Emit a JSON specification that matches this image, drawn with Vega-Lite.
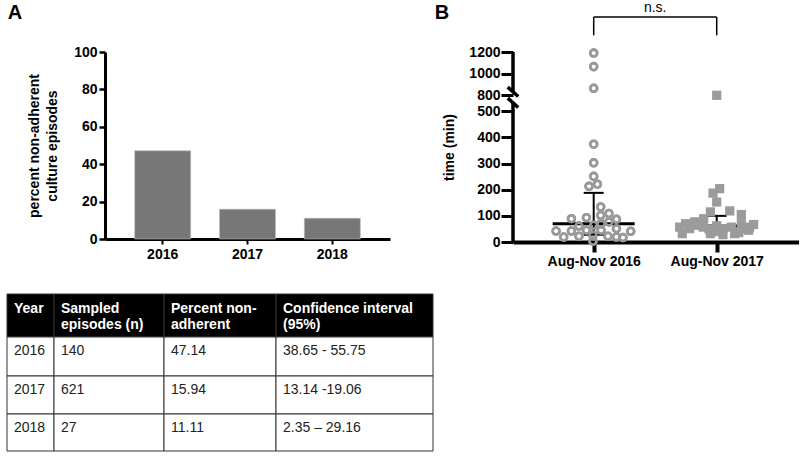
{
  "$schema": "https://vega.github.io/schema/vega-lite/v6.json",
  "background": "white",
  "padding": {"left": 6, "top": 0, "right": 0, "bottom": 0},
  "config": {
    "font": "Liberation Sans",
    "view": {"stroke": null},
    "axis": {"grid": false, "labelFont": "Liberation Sans", "labelFontWeight": "bold", "labelFontSize": 14, "labelColor": "#000", "titleFont": "Liberation Sans", "titleFontWeight": "bold", "titleFontSize": 14, "titleColor": "#000", "domainColor": "#000", "tickColor": "#000", "labelOverlap": false},
    "title": {"font": "Liberation Sans", "fontSize": 20, "fontWeight": "bold", "color": "#000", "anchor": "start", "frame": "bounds"}
  },
  "datasets": {
    "bars": [{"year": "2016", "pct": 47.14}, {"year": "2017", "pct": 15.94}, {"year": "2018", "pct": 11.11}],
    "cols": [{"col": "c1", "left": 0, "right": 47}, {"col": "c2", "left": 47, "right": 157}, {"col": "c3", "left": 157, "right": 269}, {"col": "c4", "left": 269, "right": 426}],
    "rows": [{"row": "header", "top": 0, "bottom": 43}, {"row": "2016", "top": 43, "bottom": 82}, {"row": "2017", "top": 82, "bottom": 120}, {"row": "2018", "top": 120, "bottom": 157}],
    "cells": [
      {"row": "header", "col": "c1", "text": "Year"},
      {"row": "header", "col": "c2", "text": "Sampled\nepisodes (n)"},
      {"row": "header", "col": "c3", "text": "Percent non-\nadherent"},
      {"row": "header", "col": "c4", "text": "Confidence interval\n(95%)"},
      {"row": "2016", "col": "c1", "text": "2016"},
      {"row": "2016", "col": "c2", "text": "140"},
      {"row": "2016", "col": "c3", "text": "47.14"},
      {"row": "2016", "col": "c4", "text": "38.65 - 55.75"},
      {"row": "2017", "col": "c1", "text": "2017"},
      {"row": "2017", "col": "c2", "text": "621"},
      {"row": "2017", "col": "c3", "text": "15.94"},
      {"row": "2017", "col": "c4", "text": "13.14 -19.06"},
      {"row": "2018", "col": "c1", "text": "2018"},
      {"row": "2018", "col": "c2", "text": "27"},
      {"row": "2018", "col": "c3", "text": "11.11"},
      {"row": "2018", "col": "c4", "text": "2.35 – 29.16"}
    ],
    "times": [
      {"group": "2016", "xpos": 1.0, "minutes": 1190},
      {"group": "2016", "xpos": 1.0, "minutes": 1065},
      {"group": "2016", "xpos": 1.0, "minutes": 865},
      {"group": "2016", "xpos": 1.0, "minutes": 374},
      {"group": "2016", "xpos": 1.0, "minutes": 303},
      {"group": "2016", "xpos": 1.0, "minutes": 251},
      {"group": "2016", "xpos": 0.962, "minutes": 213},
      {"group": "2016", "xpos": 1.03, "minutes": 221},
      {"group": "2016", "xpos": 1.057, "minutes": 134},
      {"group": "2016", "xpos": 0.819, "minutes": 89},
      {"group": "2016", "xpos": 0.941, "minutes": 93},
      {"group": "2016", "xpos": 1.057, "minutes": 102},
      {"group": "2016", "xpos": 1.124, "minutes": 109},
      {"group": "2016", "xpos": 1.185, "minutes": 87},
      {"group": "2016", "xpos": 0.88, "minutes": 61},
      {"group": "2016", "xpos": 1.0, "minutes": 64},
      {"group": "2016", "xpos": 1.06, "minutes": 70},
      {"group": "2016", "xpos": 1.124, "minutes": 77},
      {"group": "2016", "xpos": 0.694, "minutes": 42},
      {"group": "2016", "xpos": 0.819, "minutes": 42},
      {"group": "2016", "xpos": 0.941, "minutes": 45},
      {"group": "2016", "xpos": 1.06, "minutes": 45},
      {"group": "2016", "xpos": 1.185, "minutes": 51},
      {"group": "2016", "xpos": 1.301, "minutes": 41},
      {"group": "2016", "xpos": 0.756, "minutes": 19},
      {"group": "2016", "xpos": 0.88, "minutes": 22},
      {"group": "2016", "xpos": 0.994, "minutes": 26},
      {"group": "2016", "xpos": 1.116, "minutes": 22},
      {"group": "2016", "xpos": 1.185, "minutes": 19},
      {"group": "2016", "xpos": 1.238, "minutes": 17},
      {"group": "2016", "xpos": 0.994, "minutes": 3},
      {"group": "2017", "xpos": 2.0, "minutes": 800},
      {"group": "2017", "xpos": 2.024, "minutes": 204},
      {"group": "2017", "xpos": 1.97, "minutes": 187},
      {"group": "2017", "xpos": 2.0, "minutes": 153},
      {"group": "2017", "xpos": 1.949, "minutes": 115},
      {"group": "2017", "xpos": 2.106, "minutes": 119},
      {"group": "2017", "xpos": 2.2, "minutes": 105},
      {"group": "2017", "xpos": 1.894, "minutes": 89},
      {"group": "2017", "xpos": 1.821, "minutes": 77},
      {"group": "2017", "xpos": 1.748, "minutes": 70},
      {"group": "2017", "xpos": 1.699, "minutes": 57},
      {"group": "2017", "xpos": 1.78, "minutes": 51},
      {"group": "2017", "xpos": 1.72, "minutes": 32},
      {"group": "2017", "xpos": 1.889, "minutes": 57},
      {"group": "2017", "xpos": 1.938, "minutes": 49},
      {"group": "2017", "xpos": 1.949, "minutes": 32},
      {"group": "2017", "xpos": 2.051, "minutes": 51},
      {"group": "2017", "xpos": 2.051, "minutes": 28},
      {"group": "2017", "xpos": 2.119, "minutes": 57},
      {"group": "2017", "xpos": 2.146, "minutes": 32},
      {"group": "2017", "xpos": 2.2, "minutes": 70},
      {"group": "2017", "xpos": 2.228, "minutes": 51},
      {"group": "2017", "xpos": 2.268, "minutes": 57},
      {"group": "2017", "xpos": 2.3, "minutes": 67},
      {"group": "2017", "xpos": 2.26, "minutes": 45},
      {"group": "2017", "xpos": 2.18, "minutes": 36},
      {"group": "2017", "xpos": 2.0, "minutes": 62},
      {"group": "2017", "xpos": 2.0, "minutes": 40},
      {"group": "2017", "xpos": 1.82, "minutes": 64}
    ],
    "summary": [{"xpos": 1, "lo": 28, "median": 70, "hi": 188}, {"xpos": 2, "lo": 60, "median": 61, "hi": 100}],
    "axisline": [{"from": 0, "to": 659}, {"from": 832, "to": 1200}],
    "axisbreak": [{"at": 659}, {"at": 832}],
    "comparison": [{"a": 1, "b": 2, "label": "n.s."}]
  },
  "hconcat": [
    {
      "spacing": 32,
      "vconcat": [
        {
          "title": {"text": "A", "dx": -20, "offset": 22},
          "width": 285,
          "height": 187,
          "data": {"name": "bars"},
          "mark": {"type": "bar", "color": "#777777", "stroke": "#bbbbbb", "strokeWidth": 0.6},
          "encoding": {
            "x": {"field": "year", "type": "nominal", "scale": {"paddingInner": 0.34, "paddingOuter": 0.35}, "axis": {"title": null, "labelAngle": 0, "domainWidth": 3, "tickWidth": 2, "tickSize": 5, "labelPadding": 3}},
            "y": {"field": "pct", "type": "quantitative", "scale": {"domain": [0, 100]}, "axis": {"values": [0, 20, 40, 60, 80, 100], "tickCount": 20, "title": ["percent non-adherent", "culture episodes"], "titleLineHeight": 18, "titlePadding": 14, "domainWidth": 3, "tickWidth": 2.5, "tickSize": 6, "labelPadding": 2}}
          }
        },
        {
          "width": 328,
          "height": 157,
          "data": {"name": "cells"},
          "transform": [
            {"lookup": "col", "from": {"data": {"name": "cols"}, "key": "col", "fields": ["left", "right"]}},
            {"lookup": "row", "from": {"data": {"name": "rows"}, "key": "row", "fields": ["top", "bottom"]}}
          ],
          "layer": [
            {
              "mark": {"type": "rect", "stroke": "#333333", "strokeWidth": 1},
              "encoding": {
                "x": {"field": "left", "type": "quantitative", "scale": {"domain": [98, 426], "nice": false, "zero": false}, "axis": null},
                "x2": {"field": "right"},
                "y": {"field": "top", "type": "quantitative", "scale": {"domain": [0, 157], "reverse": true, "nice": false, "zero": false}, "axis": null},
                "y2": {"field": "bottom"},
                "fill": {"condition": {"test": "datum.row === 'header'", "value": "#000000"}, "value": "#ffffff"}
              }
            },
            {
              "transform": [{"filter": "datum.row === 'header'"}],
              "mark": {"type": "text", "align": "left", "baseline": "top", "dx": 7, "dy": 8, "color": "#ffffff", "font": "Liberation Sans", "fontWeight": "bold", "fontSize": 14, "lineBreak": "\n", "lineHeight": 16},
              "encoding": {
                "x": {"field": "left", "type": "quantitative", "axis": null},
                "y": {"field": "top", "type": "quantitative", "axis": null},
                "text": {"field": "text"}
              }
            },
            {
              "transform": [{"filter": "datum.row !== 'header'"}],
              "mark": {"type": "text", "align": "left", "baseline": "top", "dx": 7, "dy": 7, "color": "#222222", "font": "Liberation Sans", "fontSize": 14},
              "encoding": {
                "x": {"field": "left", "type": "quantitative", "axis": null},
                "y": {"field": "top", "type": "quantitative", "axis": null},
                "text": {"field": "text"}
              }
            }
          ]
        }
      ]
    },
    {
      "title": {"text": "B", "dx": -8, "offset": -22},
      "width": 286,
      "height": 190,
      "layer": [
        {
          "data": {"name": "times"},
          "transform": [{"filter": "datum.group === '2016'"}],
          "mark": {"type": "point", "shape": "circle", "filled": false, "stroke": "#999999", "strokeWidth": 2.6, "size": 48, "opacity": 1},
          "encoding": {
            "x": {"field": "xpos", "type": "quantitative", "scale": {"domain": [0.344, 2.669], "nice": false, "zero": false}, "axis": {"values": [1, 2], "tickCount": 20, "labelExpr": "datum.value == 1 ? 'Aug-Nov 2016' : 'Aug-Nov 2017'", "title": null, "domainWidth": 4, "tickWidth": 4, "tickSize": 10, "labelPadding": 2}},
            "y": {"field": "minutes", "type": "quantitative", "scale": {"domain": [0, 500, 800, 1200], "range": [190, 59.3, 43.3, 0], "nice": false, "zero": false}, "axis": {"values": [0, 100, 200, 300, 400, 500, 800, 1000, 1200], "tickCount": 20, "format": "d", "title": "time (min)", "domain": false, "tickWidth": 3, "tickSize": 12, "labelPadding": 1, "titlePadding": 12}}
          }
        },
        {
          "data": {"name": "axisline"},
          "mark": {"type": "rule", "color": "#000", "strokeWidth": 3.5},
          "encoding": {
            "x": {"datum": 0.344, "type": "quantitative"},
            "y": {"field": "from", "type": "quantitative"},
            "y2": {"field": "to"}
          }
        },
        {
          "data": {"name": "axisbreak"},
          "mark": {"type": "point", "shape": "M -1 -0.9 L 1 0.9", "filled": false, "stroke": "#000", "strokeWidth": 3.5, "size": 110, "opacity": 1},
          "encoding": {
            "x": {"datum": 0.344, "type": "quantitative"},
            "y": {"field": "at", "type": "quantitative"}
          }
        },
        {
          "data": {"name": "summary"},
          "mark": {"type": "rule", "color": "#000", "strokeWidth": 2},
          "encoding": {
            "x": {"field": "xpos", "type": "quantitative"},
            "y": {"field": "lo", "type": "quantitative"},
            "y2": {"field": "hi"}
          }
        },
        {
          "data": {"name": "summary"},
          "mark": {"type": "tick", "orient": "horizontal", "color": "#000", "size": 20, "thickness": 2, "opacity": 1},
          "encoding": {
            "x": {"field": "xpos", "type": "quantitative"},
            "y": {"field": "hi", "type": "quantitative"}
          }
        },
        {
          "data": {"name": "summary"},
          "mark": {"type": "tick", "orient": "horizontal", "color": "#000", "size": 20, "thickness": 2, "opacity": 1},
          "encoding": {
            "x": {"field": "xpos", "type": "quantitative"},
            "y": {"field": "lo", "type": "quantitative"}
          }
        },
        {
          "data": {"name": "summary"},
          "mark": {"type": "tick", "orient": "horizontal", "color": "#000", "size": 82, "thickness": 3, "opacity": 1},
          "encoding": {
            "x": {"field": "xpos", "type": "quantitative"},
            "y": {"field": "median", "type": "quantitative"}
          }
        },
        {
          "data": {"name": "times"},
          "transform": [{"filter": "datum.group === '2016'"}],
          "mark": {"type": "point", "shape": "circle", "filled": false, "stroke": "#999999", "strokeWidth": 2.6, "size": 48, "opacity": 1},
          "encoding": {
            "x": {"field": "xpos", "type": "quantitative"},
            "y": {"field": "minutes", "type": "quantitative"}
          }
        },
        {
          "data": {"name": "times"},
          "transform": [{"filter": "datum.group === '2017'"}],
          "mark": {"type": "point", "shape": "square", "filled": true, "color": "#9b9b9b", "size": 85, "opacity": 1},
          "encoding": {
            "x": {"field": "xpos", "type": "quantitative"},
            "y": {"field": "minutes", "type": "quantitative"}
          }
        },
        {
          "data": {"name": "comparison"},
          "mark": {"type": "rule", "color": "#000", "strokeWidth": 1.5},
          "encoding": {
            "x": {"field": "a", "type": "quantitative"},
            "x2": {"field": "b"},
            "y": {"datum": 1523, "type": "quantitative"}
          }
        },
        {
          "data": {"name": "summary"},
          "mark": {"type": "rule", "color": "#000", "strokeWidth": 1.5},
          "encoding": {
            "x": {"field": "xpos", "type": "quantitative"},
            "y": {"datum": 1354, "type": "quantitative"},
            "y2": {"datum": 1523}
          }
        },
        {
          "data": {"name": "comparison"},
          "mark": {"type": "text", "font": "Liberation Sans", "fontSize": 14, "color": "#000", "baseline": "middle", "align": "center"},
          "encoding": {
            "x": {"datum": 1.5, "type": "quantitative"},
            "y": {"datum": 1610, "type": "quantitative"},
            "text": {"field": "label"}
          }
        }
      ]
    }
  ],
  "spacing": 0
}
